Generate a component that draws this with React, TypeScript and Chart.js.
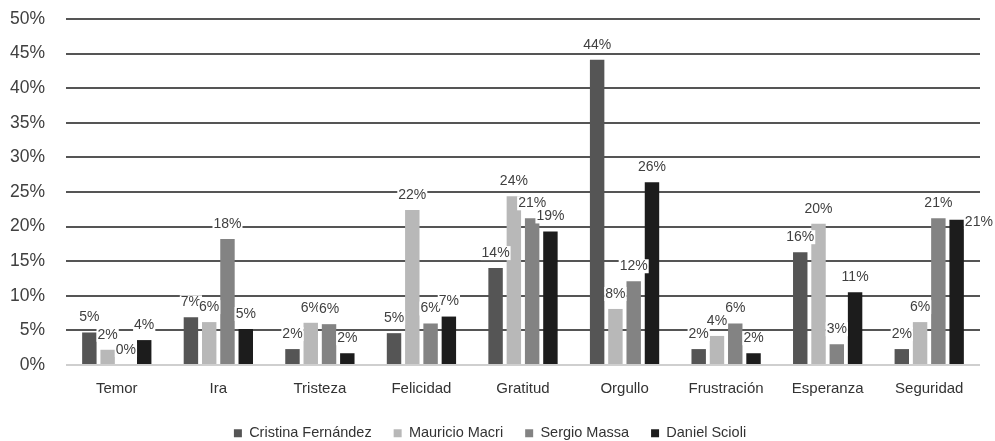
import React, { useEffect, useRef } from "react";
import { Chart, registerables } from "chart.js";

Chart.register(...registerables);

const categories = ["Temor", "Ira", "Tristeza", "Felicidad", "Gratitud", "Orgullo", "Frustración", "Esperanza", "Seguridad"];
const seriesNames = ["Cristina Fernández", "Mauricio Macri", "Sergio Massa", "Daniel Scioli"];
const cristina = [4.7, 6.9, 2.3, 4.6, 14.0, 44.1, 2.3, 16.3, 2.3];
const macri = [2.2, 6.2, 6.1, 22.4, 24.4, 8.1, 4.2, 20.4, 6.2];
const massa = [0, 18.2, 5.9, 6.0, 21.2, 12.1, 6.0, 3.0, 21.2];
const scioli = [3.6, 5.2, 1.7, 7.0, 19.3, 26.4, 1.7, 10.5, 21.0];
const seriesColors = ["#555555", "#b8b8b8", "#838383", "#1c1c1c"];
const yTicks = [0, 5, 10, 15, 20, 25, 30, 35, 40, 45, 50];

const FONT = "'Liberation Sans', Arial, sans-serif";

const labelPlugin = {
  id: "barLabels",
  afterDatasetsDraw(chart: any) {
    const ctx = chart.ctx;
    ctx.save();
    ctx.font = `14px ${FONT}`;
    ctx.textBaseline = "middle";
    const n = chart.data.labels.length;
    for (let j = 0; j < n; j++) {
      let prev: any = null;
      chart.data.datasets.forEach((ds: any, i: number) => {
        const bar = chart.getDatasetMeta(i).data[j];
        const text = Math.round(ds.data[j]) + "%";
        const w = ctx.measureText(text).width;
        let x = bar.x - w / 2;
        let y = bar.y - 15;
        if (prev && x < prev.x + prev.w - 6 && Math.abs(y - prev.y) < 12) {
          x = bar.x + bar.width / 2 + 1;
          y = bar.y + 2;
        }
        ctx.fillStyle = "#ffffff";
        ctx.fillRect(x - 1, y - 7, w + 2, 14);
        ctx.fillStyle = "#404040";
        ctx.textAlign = "left";
        ctx.fillText(text, x, y);
        prev = { x, y, w };
      });
    }
    ctx.restore();
  },
};

export default function App() {
  const ref = useRef<HTMLCanvasElement>(null);
  useEffect(() => {
    document.body.style.margin = "0";
    const data = [cristina, macri, massa, scioli];
    const chart = new Chart(ref.current!, {
      type: "bar",
      data: {
        labels: categories,
        datasets: seriesNames.map((name, i) => ({
          label: name,
          data: data[i],
          backgroundColor: seriesColors[i],
          borderWidth: 0,
          categoryPercentage: 0.72,
          barPercentage: 0.79,
        })),
      },
      options: {
        responsive: false,
        animation: false,
        layout: { padding: { top: 19, right: 15, left: 0, bottom: 0 } },
        plugins: {
          legend: {
            position: "bottom",
            maxHeight: 37,
            labels: {
              boxWidth: 8,
              boxHeight: 8,
              padding: 22,
              color: "#333333",
              font: { size: 14.5, family: FONT },
            },
          },
          tooltip: { enabled: false },
        },
        scales: {
          x: {
            grid: { display: false, drawTicks: false },
            border: { display: false },
            afterFit: (axis: any) => {
              axis.height = 39;
            },
            ticks: { color: "#333333", font: { size: 15, family: FONT }, padding: 15 },
          },
          y: {
            min: 0,
            max: 50,
            afterBuildTicks: (axis: any) => {
              axis.ticks = yTicks.map((v) => ({ value: v }));
            },
            afterFit: (axis: any) => {
              axis.width = 66;
              axis.paddingTop = 0;
              axis.paddingBottom = 0;
            },
            border: { display: false },
            grid: {
              drawTicks: false,
              lineWidth: 2,
              color: (c: any) => (c.tick && c.tick.value === 0 ? "#cfcfcf" : "#555555"),
            },
            ticks: {
              padding: 21,
              color: "#404040",
              font: { size: 17.5, family: FONT },
              callback: (v: any) => v + "%",
            },
          },
        },
      },
      plugins: [labelPlugin],
    });
    return () => chart.destroy();
  }, []);
  return (
    <div style={{ width: 995, height: 441 }}>
      <canvas ref={ref} width={995} height={441} />
    </div>
  );
}
